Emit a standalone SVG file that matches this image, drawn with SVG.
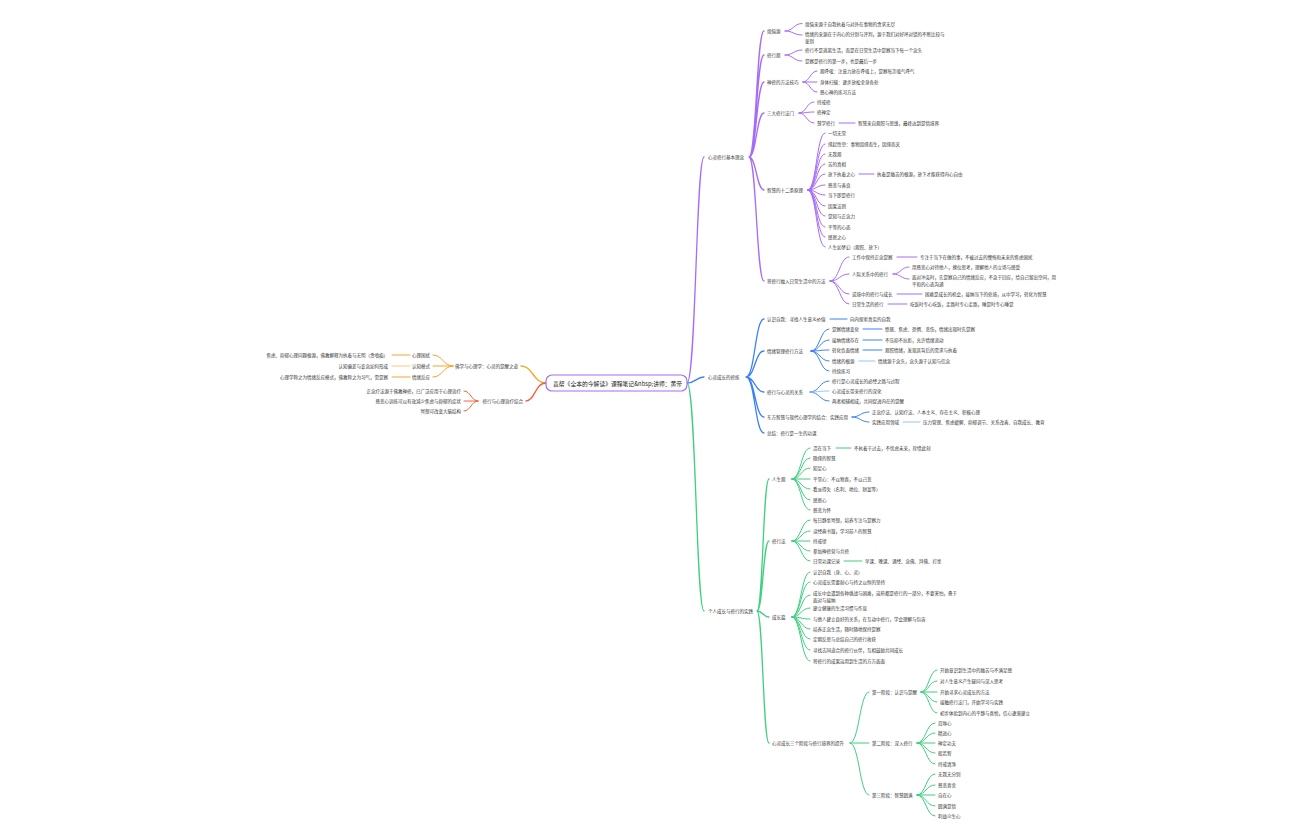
<svg xmlns="http://www.w3.org/2000/svg" width="1296" height="840" viewBox="0 0 1296 840">
<style>
text{font-family:"Noto Sans CJK SC","Noto Sans",sans-serif;font-size:4.5px;fill:#333;dominant-baseline:central}
.e{text-anchor:end}
.ct{font-size:5.8px;fill:#222}
path{fill:none;stroke-width:1;stroke-linecap:round}
.tk{stroke-width:1.3}
.p{stroke:#a66cf7}.b{stroke:#3b82f6}.bl{stroke:#93c5fd}.g{stroke:#3fcf7f}
.o{stroke:#f5a524}.ol{stroke:#fcc97a}.r{stroke:#f4623a}.rl{stroke:#f89a80}
</style>
<rect width="1296" height="840" fill="#fff"/>
<g id="connectors">
<path class="p tk" d="M687 383C696 383 696 157 704 157"/>
<path class="b tk" d="M687 383C696 383 696 377 704 377"/>
<path class="g tk" d="M687 383C696 383 696 611 704 611"/>
<path class="o tk" d="M546 383C533 383 533 366 521 366"/>
<path class="r tk" d="M546 383C535 383 535 401 526 401"/>
<path class="p tk" d="M749 157C756.5 157 756.5 31 764 31M749 157C756.5 157 756.5 55 764 55M749 157C756.5 157 756.5 82 764 82M749 157C756.5 157 756.5 113 764 113M749 157C756.5 157 756.5 190 764 190M749 157C756.5 157 756.5 281 764 281"/>
<path class="p" d="M785 31C793.5 31 793.5 23.5 802 23.5M785 31C793.5 31 793.5 35 802 35M785 55C793.5 55 793.5 50 802 50M785 55C793.5 55 793.5 61 802 61"/>
<path class="p" d="M803 82C810 82 810 71 817 71M803 82L817 82M803 82C810 82 810 92 817 92M799 113C806.5 113 806.5 102 814 102M799 113C806.5 113 806.5 112 814 112M799 113C806.5 113 806.5 123 814 123M839 123L855 123"/>
<path class="p" d="M808 190C816.5 190 816.5 133 825 133M808 190C816.5 190 816.5 144 825 144M808 190C816.5 190 816.5 154 825 154M808 190C816.5 190 816.5 164 825 164M808 190C816.5 190 816.5 174 825 174M808 190C816.5 190 816.5 185 825 185M808 190C816.5 190 816.5 195 825 195M808 190C816.5 190 816.5 206 825 206M808 190C816.5 190 816.5 216 825 216M808 190C816.5 190 816.5 227 825 227M808 190C816.5 190 816.5 237 825 237M808 190C816.5 190 816.5 247 825 247M859 174L874 174"/>
<path class="p" d="M830 281C839.5 281 839.5 257 849 257M830 281C839.5 281 839.5 274 849 274M830 281C839.5 281 839.5 294 849 294M830 281C839.5 281 839.5 304 849 304M897 257L917 257M893 274C901 274 901 267 909 267M893 274C901 274 901 279 909 279M897 294L922 294M888 304L907 304"/>
<path class="b tk" d="M746 377C755 377 755 319 764 319M746 377C755 377 755 351 764 351M746 377C755 377 755 392 764 392M746 377C755 377 755 417 764 417M746 377C755 377 755 433 764 433"/>
<path class="b" d="M830 319L847 319M811 351C820 351 820 329 829 329M811 351C820 351 820 340 829 340M811 351C820 351 820 350 829 350M811 351C820 351 820 361 829 361M811 351C820 351 820 371 829 371M863 329L882 329M863 340L882 340M863 350L882 350"/>
<path class="bl" d="M859 361L875 361"/>
<path class="b" d="M810 392C819.5 392 819.5 381 829 381M810 392C819.5 392 819.5 401 829 401M852 417C860.5 417 860.5 412 869 412M852 417C860.5 417 860.5 422 869 422"/>
<path class="bl" d="M810 392C819.5 392 819.5 391 829 391M903 422L920 422"/>
<path class="g tk" d="M757 611C763 611 763 479 769 479M757 611C763 611 763 541 769 541M757 611C763 611 763 617 769 617M757 611C763 611 763 743 769 743"/>
<path class="g" d="M792 479C801 479 801 448 810 448M792 479C801 479 801 458 810 458M792 479C801 479 801 468 810 468M792 479L810 479M792 479C801 479 801 489 810 489M792 479C801 479 801 500 810 500M792 479C801 479 801 510 810 510M836 448L851 448"/>
<path class="g" d="M792 541C801 541 801 520 810 520M792 541C801 541 801 531 810 531M792 541L810 541M792 541C801 541 801 551 810 551M792 541C801 541 801 561 810 561M844 561L862 561"/>
<path class="g" d="M792 617C801 617 801 572 810 572M792 617C801 617 801 582 810 582M792 617C801 617 801 595 810 595M792 617C801 617 801 608 810 608M792 617C801 617 801 619 810 619M792 617C801 617 801 629 810 629M792 617C801 617 801 639 810 639M792 617C801 617 801 650 810 650M792 617C801 617 801 661 810 661"/>
<path class="g" d="M850 743C859.5 743 859.5 692 869 692M850 743L869 743M850 743C859.5 743 859.5 795 869 795"/>
<path class="g" d="M921 692C929 692 929 670 937 670M921 692C929 692 929 681 937 681M921 692L937 692M921 692C929 692 929 702 937 702M921 692C929 692 929 713 937 713"/>
<path class="g" d="M917 743C926 743 926 723 935 723M917 743C926 743 926 733 935 733M917 743L935 743M917 743C926 743 926 753 935 753M917 743C926 743 926 764 935 764"/>
<path class="g" d="M917 795C926 795 926 774 935 774M917 795C926 795 926 785 935 785M917 795L935 795M917 795C926 795 926 806 935 806M917 795C926 795 926 816 935 816"/>
<path class="o" d="M453 366C443 366 443 355 433 355M453 366L433 366M453 366C443 366 443 377 433 377M410 355L392 355M410 377L392 377"/>
<path class="ol" d="M410 366L392 366"/>
<path class="r" d="M478 401C471 401 471 391 464 391M478 401L464 401M478 401C471 401 471 411 464 411"/>
</g>
<g id="n0"><rect x="546" y="375" width="141" height="16" rx="6" fill="#fff" stroke="#a66cf7" stroke-width="1.2"/><text class="ct" x="553" y="383.5">袁帮《全本的今解读》课程笔记&amp;nbsp;讲师：黄帝</text></g>
<g id="n-p"><text x="708" y="157">心灵修行基本理念</text></g>
<g id="n-p1"><text x="767" y="31">烦恼源</text></g>
<g id="n-p1a"><text x="805" y="23.5">烦恼来源于自我执着与对外在事物的贪求无尽</text></g>
<g id="n-p1b"><text x="805" y="34">情绪的来源在于内心的分别与评判，源于我们对好坏对错的不断比较与</text><text x="805" y="40.5">鉴别</text></g>
<g id="n-p2"><text x="767" y="55">修行观</text></g>
<g id="n-p2a"><text x="805" y="50">修行不是逃离生活，而是在日常生活中觉察当下每一个念头</text></g>
<g id="n-p2b"><text x="805" y="61">觉察是修行的第一步，也是最后一步</text></g>
<g id="n-p3"><text x="767" y="82">禅修的方法技巧</text></g>
<g id="n-p3a"><text x="820" y="71">观呼吸：注意力放在呼吸上，觉察每次吸气呼气</text></g>
<g id="n-p3b"><text x="820" y="82">身体扫描：逐步放松全身各处</text></g>
<g id="n-p3c"><text x="820" y="92">慈心禅的练习方法</text></g>
<g id="n-p4"><text x="767" y="113">三大修行法门</text></g>
<g id="n-p4a"><text x="817" y="102">持戒修</text></g>
<g id="n-p4b"><text x="817" y="112">修禅定</text></g>
<g id="n-p4c"><text x="817" y="123">慧学修行</text></g>
<g id="n-p4c1"><text x="858" y="123">智慧来自观照与思维，最终达到觉悟境界</text></g>
<g id="n-p5"><text x="767" y="190">智慧的十二条原理</text></g>
<g id="n-p5a"><text x="828" y="133">一切无常</text></g>
<g id="n-p5b"><text x="828" y="144">缘起性空：事物因缘而生，因缘而灭</text></g>
<g id="n-p5c"><text x="828" y="154">无我观</text></g>
<g id="n-p5d"><text x="828" y="164">苦的真相</text></g>
<g id="n-p5e"><text x="828" y="174">放下执着之心</text></g>
<g id="n-p5e1"><text x="877" y="174">执着是痛苦的根源，放下才能获得内心自由</text></g>
<g id="n-p5f"><text x="828" y="185">慈悲与善良</text></g>
<g id="n-p5g"><text x="828" y="195">当下即是修行</text></g>
<g id="n-p5h"><text x="828" y="206">因果法则</text></g>
<g id="n-p5i"><text x="828" y="216">觉知与正念力</text></g>
<g id="n-p5j"><text x="828" y="227">平等的心态</text></g>
<g id="n-p5k"><text x="828" y="237">感恩之心</text></g>
<g id="n-p5l"><text x="828" y="247">人生如梦幻（观照、放下）</text></g>
<g id="n-p6"><text x="767" y="281">将修行融入日常生活中的方法</text></g>
<g id="n-p6a"><text x="852" y="257">工作中保持正念觉察</text></g>
<g id="n-p6a1"><text x="920" y="257">专注于当下在做的事，不被过去的懊悔和未来的焦虑困扰</text></g>
<g id="n-p6b"><text x="852" y="274">人际关系中的修行</text></g>
<g id="n-p6b1"><text x="912" y="267">用慈悲心对待他人，换位思考，理解他人的立场与感受</text></g>
<g id="n-p6b2"><text x="912" y="277">面对冲突时，先觉察自己的情绪反应，不急于回应，给自己留出空间，用</text><text x="912" y="283.5">平和的心态沟通</text></g>
<g id="n-p6c"><text x="852" y="294">逆境中的修行与成长</text></g>
<g id="n-p6c1"><text x="925" y="294">困难是成长的机会，接纳当下的处境，从中学习，转化为智慧</text></g>
<g id="n-p6d"><text x="852" y="304">日常生活的修行</text></g>
<g id="n-p6d1"><text x="910" y="304">吃饭时专心吃饭，走路时专心走路，睡觉时专心睡觉</text></g>
<g id="n-b"><text x="708" y="377">心灵成长的修炼</text></g>
<g id="n-b1"><text x="767" y="319">认识自我：寻找人生意义价值</text></g>
<g id="n-b1a"><text x="850" y="319">向内探索真实的自我</text></g>
<g id="n-b2"><text x="767" y="351">情绪管理修行方法</text></g>
<g id="n-b2a"><text x="832" y="329">觉察情绪变化</text></g>
<g id="n-b2a1"><text x="885" y="329">愤怒、焦虑、恐惧、悲伤，情绪出现时先觉察</text></g>
<g id="n-b2b"><text x="832" y="340">接纳情绪存在</text></g>
<g id="n-b2b1"><text x="885" y="340">不压抑不抗拒，允许情绪流动</text></g>
<g id="n-b2c"><text x="832" y="350">转化负面情绪</text></g>
<g id="n-b2c1"><text x="885" y="350">观照情绪，发现其背后的需求与执着</text></g>
<g id="n-b2d"><text x="832" y="361">情绪的根源</text></g>
<g id="n-b2d1"><text x="878" y="361">情绪源于念头，念头源于认知与信念</text></g>
<g id="n-b2e"><text x="832" y="371">持续练习</text></g>
<g id="n-b3"><text x="767" y="392">修行与心灵的关系</text></g>
<g id="n-b3a"><text x="832" y="381">修行是心灵成长的必经之路与过程</text></g>
<g id="n-b3b"><text x="832" y="391">心灵成长带来修行的深化</text></g>
<g id="n-b3c"><text x="832" y="401">两者相辅相成，共同促进内在的觉醒</text></g>
<g id="n-b4"><text x="767" y="417">东方智慧与现代心理学的结合：实践应用</text></g>
<g id="n-b4a"><text x="872" y="412">正念疗法、认知疗法、人本主义、存在主义、积极心理</text></g>
<g id="n-b4b"><text x="872" y="422">实践应用领域</text></g>
<g id="n-b4b1"><text x="923" y="422">压力管理、焦虑缓解、抑郁调节、关系改善、自我成长、教育</text></g>
<g id="n-b5"><text x="767" y="433">总结：修行是一生的功课</text></g>
<g id="n-g"><text x="708" y="611">个人成长与修行的实践</text></g>
<g id="n-g1"><text x="772" y="479">人生观</text></g>
<g id="n-g1a"><text x="813" y="448">活在当下</text></g>
<g id="n-g1a1"><text x="854" y="448">不执着于过去，不忧虑未来，珍惜此刻</text></g>
<g id="n-g1b"><text x="813" y="458">随缘的智慧</text></g>
<g id="n-g1c"><text x="813" y="468">知足心</text></g>
<g id="n-g1d"><text x="813" y="479">平常心：不以物喜，不以己悲</text></g>
<g id="n-g1e"><text x="813" y="489">看淡得失（名利、地位、财富等）</text></g>
<g id="n-g1f"><text x="813" y="500">感恩心</text></g>
<g id="n-g1g"><text x="813" y="510">慈悲为怀</text></g>
<g id="n-g2"><text x="772" y="541">修行法</text></g>
<g id="n-g2a"><text x="813" y="520">每日静坐冥想，培养专注与觉察力</text></g>
<g id="n-g2b"><text x="813" y="531">读经典书籍，学习前人的智慧</text></g>
<g id="n-g2c"><text x="813" y="541">持戒律</text></g>
<g id="n-g2d"><text x="813" y="551">参加禅修营与共修</text></g>
<g id="n-g2e"><text x="813" y="561">日常功课记录</text></g>
<g id="n-g2e1"><text x="865" y="561">早课、晚课、诵经、念佛、拜佛、打坐</text></g>
<g id="n-g3"><text x="772" y="617">成长篇</text></g>
<g id="n-g3a"><text x="813" y="572">认识自我（身、心、灵）</text></g>
<g id="n-g3b"><text x="813" y="582">心灵成长需要耐心与持之以恒的坚持</text></g>
<g id="n-g3c"><text x="813" y="593">成长中会遇到各种挑战与困难，这些都是修行的一部分，不要害怕，勇于</text><text x="813" y="599.5">面对与接纳</text></g>
<g id="n-g3d"><text x="813" y="608">建立健康的生活习惯与作息</text></g>
<g id="n-g3e"><text x="813" y="619">与他人建立良好的关系，在互动中修行，学会理解与包容</text></g>
<g id="n-g3f"><text x="813" y="629">培养正念生活，随时随地保持觉察</text></g>
<g id="n-g3g"><text x="813" y="639">定期反思与总结自己的修行收获</text></g>
<g id="n-g3h"><text x="813" y="650">寻找志同道合的修行伙伴，互相鼓励共同成长</text></g>
<g id="n-g3i"><text x="813" y="661">将修行的成果运用到生活的方方面面</text></g>
<g id="n-g4"><text x="772" y="743">心灵成长三个阶段与修行境界的提升</text></g>
<g id="n-g4a"><text x="872" y="692">第一阶段：认识与觉醒</text></g>
<g id="n-g4a1"><text x="940" y="670">开始意识到生活中的痛苦与不满足感</text></g>
<g id="n-g4a2"><text x="940" y="681">对人生意义产生疑问与深入思考</text></g>
<g id="n-g4a3"><text x="940" y="692">开始寻求心灵成长的方法</text></g>
<g id="n-g4a4"><text x="940" y="702">接触修行法门，开始学习与实践</text></g>
<g id="n-g4a5"><text x="940" y="713">初步体验到内心的平静与喜悦，信心逐渐建立</text></g>
<g id="n-g4b"><text x="872" y="743">第二阶段：深入修行</text></g>
<g id="n-g4b1"><text x="938" y="723">忍辱心</text></g>
<g id="n-g4b2"><text x="938" y="733">精进心</text></g>
<g id="n-g4b3"><text x="938" y="743">禅定功夫</text></g>
<g id="n-g4b4"><text x="938" y="753">般若智</text></g>
<g id="n-g4b5"><text x="938" y="764">持戒清净</text></g>
<g id="n-g4c"><text x="872" y="795">第三阶段：智慧圆满</text></g>
<g id="n-g4c1"><text x="938" y="774">无我无分别</text></g>
<g id="n-g4c2"><text x="938" y="785">慈悲喜舍</text></g>
<g id="n-g4c3"><text x="938" y="795">自在心</text></g>
<g id="n-g4c4"><text x="938" y="806">圆满觉悟</text></g>
<g id="n-g4c5"><text x="938" y="816">利益众生心</text></g>
<g id="n-o"><text class="e" x="518" y="366">佛学与心理学：心灵的觉醒之道</text></g>
<g id="n-o1"><text class="e" x="430" y="355">心理困扰</text></g>
<g id="n-o1a"><text class="e" x="388" y="355">焦虑、抑郁心理问题根源，佛教解释为执着与无明（贪嗔痴）</text></g>
<g id="n-o2"><text class="e" x="430" y="366">认知模式</text></g>
<g id="n-o2a"><text class="e" x="388" y="366">认知偏差与妄念如何形成</text></g>
<g id="n-o3"><text class="e" x="430" y="377">情绪反应</text></g>
<g id="n-o3a"><text class="e" x="388" y="377">心理学称之为情绪反应模式，佛教称之为习气，需觉察</text></g>
<g id="n-r"><text class="e" x="523" y="401">修行与心理治疗结合</text></g>
<g id="n-r1"><text class="e" x="461" y="391">正念疗法源于佛教禅修，已广泛应用于心理治疗</text></g>
<g id="n-r2"><text class="e" x="461" y="401">慈悲心训练可以有效减少焦虑与抑郁的症状</text></g>
<g id="n-r3"><text class="e" x="461" y="411">冥想可改变大脑结构</text></g>
</svg>
